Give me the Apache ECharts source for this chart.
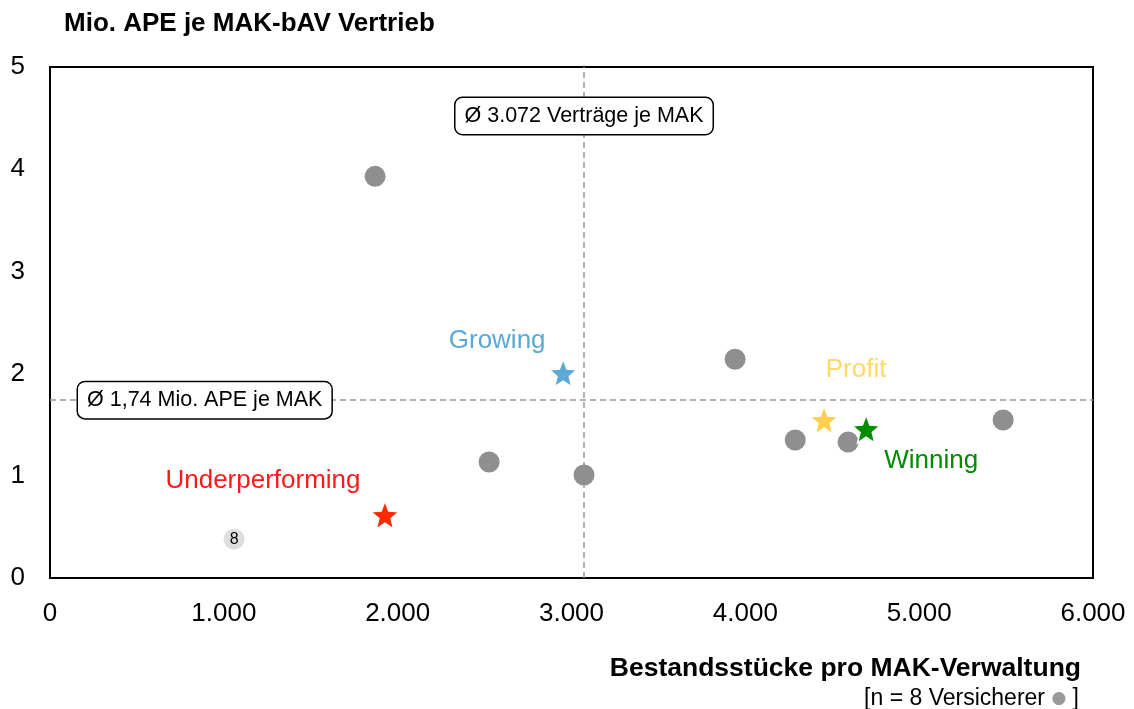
<!DOCTYPE html>
<html><head><meta charset="utf-8">
<script src="https://cdn.jsdelivr.net/npm/echarts@6/dist/echarts.min.js"></script>
<style>html,body{margin:0;padding:0;background:#fff}#c{width:1134px;height:709px}</style>
</head><body><div id="c"></div>
<script>
// Data
const insurerX = [1870, 2526, 3072, 3941, 4287, 4591, 5483];
const insurerY = [3.93, 1.135, 1.008, 2.14, 1.35, 1.33, 1.546];
const smallX = [1059];
const smallY = [0.38];
const smallLabel = ['8'];
const starNames = ['Growing', 'Underperforming', 'Profit', 'Winning'];
const starX = [2952, 1927, 4453, 4695];
const starY = [2.006, 0.616, 1.546, 1.458];
const meanX = 3072;
const meanY = 1.74;
const meanXLabel = 'Ø 3.072 Verträge je MAK';
const meanYLabel = 'Ø 1,74 Mio. APE je MAK';
const xTicks = [0, 1000, 2000, 3000, 4000, 5000, 6000];
const yTicks = [0, 1, 2, 3, 4, 5];
const titleText = 'Mio. APE je MAK-bAV Vertrieb';
const xAxisTitle = 'Bestandsstücke pro MAK-Verwaltung';

const FONT = '"Liberation Sans", Arial, sans-serif';
const STAR = 'path://M12,1 L14.94,8.6 L23,9.1 L16.8,14.3 L18.8,22.2 L12,17.8 L5.2,22.2 L7.2,14.3 L1,9.1 L9.06,8.6 Z';
const starColors = ['#5aaad5', '#ff2a00', '#ffd050', '#008c00'];
const labelColors = ['#5aaad5', '#ff1a1a', '#ffd966', '#008c00'];
const labelOffsets = [[-66, -32], [-122, -34], [32, -50], [65, 32]];

const chart = echarts.init(document.getElementById('c'));
const fmt = v => String(v).replace(/\B(?=(\d{3})+(?!\d))/g, '.');

const boxLabel = {
  show: true, color: '#000', fontSize: 21.5, fontFamily: FONT,
  backgroundColor: '#fff', borderColor: '#000', borderWidth: 1.5, borderRadius: 7,
  padding: [8, 9, 6, 9]
};

const starSeries = starNames.map((n, i) => ({
  type: 'scatter', name: n, symbol: STAR, symbolSize: 28, z: 5,
  itemStyle: { color: starColors[i], opacity: 1, borderColor: '#fff', borderWidth: 1.5 },
  label: { show: true, formatter: n, position: 'inside', offset: labelOffsets[i],
           color: labelColors[i], fontSize: 26, fontFamily: FONT },
  data: [[starX[i], starY[i]]]
}));

chart.setOption({
  animation: false,
  textStyle: { fontFamily: FONT },
  title: [
    { text: titleText, left: 59, top: 6, textStyle: { fontSize: 26, fontWeight: 'bold', color: '#000', fontFamily: FONT } },
    { text: xAxisTitle, right: 48, top: 650, textStyle: { fontSize: 26.5, fontWeight: 'bold', color: '#000', fontFamily: FONT } },
    { text: '[n = 8 Versicherer {d|●} ]', right: 50, top: 681,
      textStyle: { fontSize: 23, lineHeight: 26, fontWeight: 'normal', color: '#000', fontFamily: FONT,
        rich: { d: { color: '#999', fontSize: 17, lineHeight: 26, fontFamily: '"DejaVu Sans", sans-serif' } } } }
  ],
  grid: { left: 50, right: 41, top: 67, bottom: 131, show: true, borderColor: '#000', borderWidth: 2, containLabel: false },
  xAxis: {
    type: 'value', min: xTicks[0], max: xTicks[xTicks.length - 1], interval: 1000,
    axisLine: { show: false }, axisTick: { show: false }, splitLine: { show: false },
    axisLabel: { formatter: v => fmt(v), fontSize: 26, color: '#000', margin: 23, fontFamily: FONT }
  },
  yAxis: {
    type: 'value', min: yTicks[0], max: yTicks[yTicks.length - 1], interval: 1,
    axisLine: { show: false }, axisTick: { show: false }, splitLine: { show: false },
    axisLabel: { fontSize: 26, color: '#000', margin: 25, fontFamily: FONT }
  },
  series: [
    {
      type: 'scatter', symbol: 'circle', symbolSize: 21, z: 3,
      itemStyle: { color: '#8f8f8f', opacity: 1 },
      data: insurerX.map((x, i) => [x, insurerY[i]]),
      markLine: {
        silent: true, symbol: 'none', z: 1,
        lineStyle: { color: '#999', type: [6, 4], width: 1.5 },
        label: { show: false },
        data: [{ xAxis: meanX }, { yAxis: meanY }]
      },
      markPoint: {
        silent: true, symbol: 'rect', symbolSize: 1, itemStyle: { color: 'rgba(0,0,0,0)' }, z: 6,
        label: Object.assign({ position: 'inside' }, boxLabel),
        data: [
          { coord: [meanX, 4.52], label: Object.assign({ formatter: meanXLabel, position: 'inside' }, boxLabel) },
          { coord: [890, meanY], label: Object.assign({ formatter: meanYLabel, position: 'inside' }, boxLabel) }
        ]
      }
    },
    {
      type: 'scatter', symbol: 'circle', symbolSize: 21, z: 3,
      itemStyle: { color: '#dedede', opacity: 1 },
      label: { show: true, position: 'inside', formatter: p => smallLabel[p.dataIndex], color: '#000', fontSize: 16, fontFamily: FONT },
      data: smallX.map((x, i) => [x, smallY[i]])
    }
  ].concat(starSeries)
});
</script></body></html>
